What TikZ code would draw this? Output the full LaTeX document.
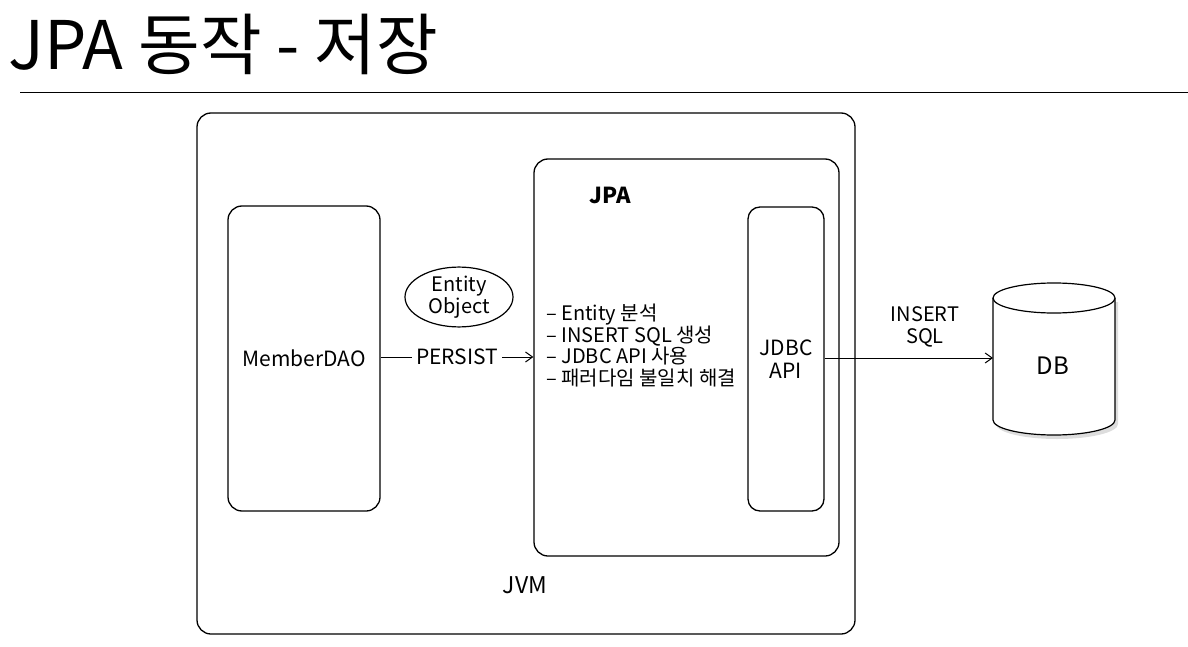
\documentclass[tikz,border=0pt]{standalone}
\usepackage{fontspec}
\setmainfont{Noto Sans CJK KR}
\usetikzlibrary{arrows.meta,shapes.geometric}
\tikzset{
  box/.style={draw, line width=1.3pt, rounded corners=14pt},
  lbl/.style={font=\fontsize{21}{24}\selectfont, inner sep=1pt},
  conn/.style={line width=1pt, -{Straight Barb[length=7pt,width=10pt]}},
}
\begin{document}
\begin{tikzpicture}[x=1pt,y=-1pt]
\useasboundingbox (0,0) rectangle (1188,647);
\node[anchor=base west, inner sep=0pt, font=\fontsize{67}{75}\selectfont] (title) at (8,70) {JPA 동작 - 저장};
\draw[line width=1pt] (20,93) coordinate (hl) -- (1188,93) coordinate (hr);
% JVM
\draw[box] (197,113) rectangle (855,634);
\node[lbl, font=\fontsize{23}{26}\selectfont] (jvm) at (525,585) {JVM};
% MemberDAO
\node[box, minimum width=152pt, minimum height=305pt, lbl, inner sep=0pt] (dao) at (304,358.5) {MemberDAO};
% JPA
\node[box, minimum width=305pt, minimum height=397pt] (jpa) at (686.5,357.5) {};
\node[lbl, font=\bfseries\fontsize{22}{25}\selectfont] (jpalbl) at (610,195) {JPA};
% JDBC
\node[box, minimum width=76pt, minimum height=304pt, rounded corners=12pt, align=center, inner sep=0pt, font=\fontsize{21}{23}\selectfont] (jdbc) at (786,359) {JDBC\\API};
% Entity object
\node[draw, ellipse, line width=1.2pt, minimum width=108pt, minimum height=52pt, inner sep=0pt, align=center, font=\fontsize{20}{22}\selectfont] (ent) at (459,297) {Entity\\Object};
% list
\node[anchor=north west, align=left, font=\fontsize{20}{21.5}\selectfont, inner sep=0pt] (list) at (546,304)
{– Entity 분석\\– INSERT SQL 생성\\– JDBC API 사용\\– 패러다임 불일치 해결};
% persist arrow
\draw[conn] (dao.east |- 0,357) -- (jpa.west |- 0,357) node[midway, fill=white, lbl, inner sep=4pt] (persist) {PERSIST};
% DB cylinder
\fill[gray!45, opacity=0.6] (996,302) -- (996,424) arc[start angle=180, end angle=0, x radius=61, y radius=15] -- (1118,302) -- cycle;
\draw[line width=1.2pt, fill=white] (993,298) -- (993,420) arc[start angle=180, end angle=0, x radius=61, y radius=15] -- (1115,298);
\draw[line width=1.2pt, fill=white] (1054,298) ellipse[x radius=61, y radius=15];
\coordinate (db) at (993,358);
\node[font=\fontsize{24}{27}\selectfont, inner sep=0pt] (dblbl) at (1053,366) {DB};
\draw[conn] (jdbc.east |- 0,358) -- (db);
\node[align=center, font=\fontsize{20}{22}\selectfont, inner sep=0pt] (sql) at (925,327) {INSERT\\SQL};
\end{tikzpicture}
\end{document}
